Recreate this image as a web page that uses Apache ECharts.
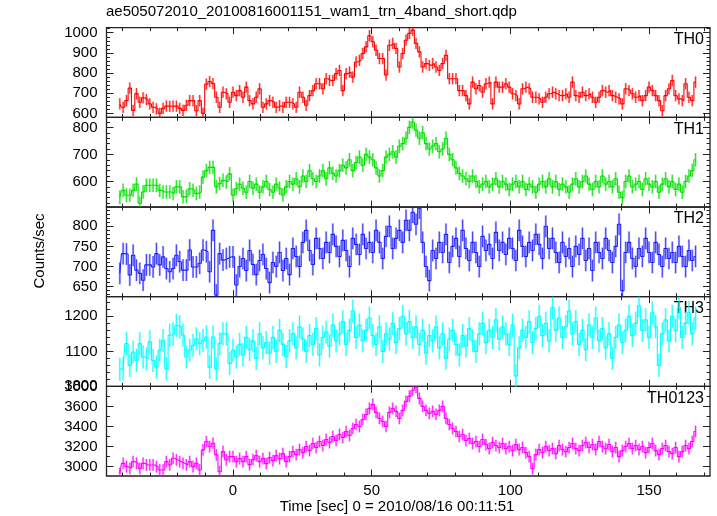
<!DOCTYPE html>
<html><head><meta charset="utf-8">
<script src="https://cdn.jsdelivr.net/npm/echarts@6/dist/echarts.min.js"></script>
<style>html,body{margin:0;padding:0;background:#fff}#c{width:717px;height:516px}</style>
</head><body><div id="c"></div>
<script>
// time bins
const binStart = -40.8, binWidth = 1.2;
// count rates (counts/sec)
const th0 = [647,630,663,725,615,698,655,677,668,647,
630,622,600,625,636,635,636,636,625,615,
640,663,663,613,663,600,745,758,748,680,
630,705,697,655,705,688,713,680,730,663,
647,680,722,630,647,663,655,630,638,630,
655,655,647,630,
705,680,640,688,713,747,747,722,772,763,
763,797,813,713,797,805,780,855,863,897,
930,985,955,913,872,872,790,938,947,922,
830,897,963,997,1013,947,905,830,847,838,
847,830,813,847,888,772,772,772,713,713,
688,647,755,722,738,705,747,755,647,755,
730,730,747,730,697,688,647,722,730,722,
680,680,672,655,680,697,705,697,688,688,
697,680,755,688,680,705,688,697,680,655,
680,713,705,713,688,680,672,647,722,713,
697,680,688,663,688,730,713,688,663,613,
688,722,763,688,672,663,747,680,663,755];
const th1 = [541,567,549,549,567,590,519,561,586,586,
586,586,567,561,561,561,555,580,580,543,
545,573,567,555,561,616,640,652,652,580,
592,604,598,628,549,573,
590,575,560,600,575,590,560,
580,600,570,560,590,575,550,580,
600,590,610,580,620,600,640,610,600,
620,640,610,650,630,620,640,660,
650,680,640,670,690,660,700,690,680,
650,620,640,690,700,710,690,
730,740,760,800,820,790,760,780,740,
720,730,740,710,720,760,700,680,650,
630,620,610,600,620,600,580,590,
600,580,590,610,580,600,590,570,
590,600,580,600,570,590,580,560,590,
600,580,610,580,600,570,590,580,
560,590,610,580,600,620,590,570,
600,580,620,590,600,580,610,560,540,
600,620,580,590,600,570,610,590,
580,600,560,590,610,580,600,570,
590,560,600,620,640,680];
const th2 = [683,732,731,679,728,691,683,666,704,704,
699,732,704,724,695,687,695,728,712,691,
691,741,699,699,708,741,737,687,790,629,
732,716,720,724,724,654,
700,720,690,740,705,680,715,730,695,660,
710,700,735,690,720,680,745,725,700,760,
790,740,705,770,745,720,760,735,780,750,
725,765,740,700,770,755,730,780,745,760,
735,790,760,720,775,800,745,770,790,760,
815,790,835,805,845,760,700,665,740,720,
760,735,780,710,750,770,725,790,745,715,
760,735,700,775,740,755,720,785,740,760,
730,770,745,715,790,750,725,760,740,780,
755,720,800,745,770,735,710,760,725,745,
700,750,730,770,715,745,690,760,735,720,
770,740,710,750,805,640,735,760,720,700,
745,725,770,735,710,760,730,700,745,720,
735,710,750,725,700,740,715,725];
const th3 = [1049,1050,1122,1060,1098,1074,1122,1084,1079,1127,
1074,1055,1103,1131,1050,1146,1150,1174,1170,1146,
1084,1103,1117,1136,1122,1131,1141,1055,1141,1050,
1122,1150,1150,1065,1103,1084,
1120,1090,1140,1105,1130,1080,1150,1110,1125,1095,
1140,1100,1160,1120,1085,1130,1150,1110,1170,1135,
1100,1145,1120,1165,1090,1140,1155,1115,1175,1130,
1150,1185,1120,1160,1215,1140,1175,1130,1160,1195,
1145,1120,1170,1100,1150,1135,1180,1125,1165,1200,
1150,1185,1140,1170,1120,1160,1095,1145,1130,1170,
1110,1150,1080,1135,1160,1120,1090,1145,1115,1165,
1130,1100,1150,1180,1125,1160,1140,1190,1135,1170,
1150,1120,1175,1030,1110,1160,1140,1185,1125,1165,
1200,1145,1180,1130,1225,1160,1195,1140,1170,1215,
1150,1185,1120,1160,1105,1175,1140,1195,1130,1165,
1110,1150,1080,1140,1175,1125,1160,1200,1145,1180,
1230,1160,1190,1140,1210,1170,1060,1150,1190,1130,
1200,1160,1225,1140,1180,1210,1150,1195];
const th0123 = [2933,3033,3000,2983,3050,3033,2983,3033,3017,3017,
3017,3000,2967,2967,3050,3017,3083,3067,3050,3033,
3017,3050,3000,3033,2967,3167,3250,3200,3233,3117,
2950,3150,3067,3100,3100,3050,
3080,3050,3100,3020,3070,3110,3050,3080,3030,3090,
3060,3110,3080,3130,3050,3100,3150,3120,3170,3140,
3200,3160,3230,3190,3250,3210,3270,3240,3300,3260,
3320,3290,3350,3310,3380,3420,3400,3470,3520,3580,
3620,3540,3480,3450,3400,3540,3580,3550,3480,3560,
3650,3700,3760,3790,3680,3600,3560,3530,3550,3520,
3560,3600,3480,3420,3380,3350,3300,3320,3260,3280,
3230,3250,3200,3270,3220,3180,3240,3210,3190,3230,
3180,3200,3160,3220,3170,3190,3140,3100,2980,3120,
3170,3140,3200,3160,3180,3130,3210,3170,3150,3190,
3230,3180,3160,3210,3240,3190,3220,3170,3250,3200,
3180,3220,3150,3190,3100,3160,3200,3230,3180,3210,
3170,3200,3140,3190,3230,3160,3120,3180,3210,3150,
3130,3190,3100,3150,3210,3180,3250,3350];
// typical 1-sigma errors per band
const errors = [28, 25, 27, 33, 58];
const bandNames = ['TH0','TH1','TH2','TH3','TH0123'];
const colors = ['#ff0000','#00e000','#2020ff','#00ffff','#ff00ff'];
// axis ranges and tick labels
const yMin = [580, 505, 625, 1000, 2907];
const yMax = [1025, 837, 848, 1256, 3800];
const yLabels = [[600,700,800,900,1000],[600,700,800],[650,700,750,800],[1000,1100,1200],[3000,3200,3400,3600,3800]];
const yMinorStep = [20, 20, 10, 20, 100];
const xMin = -45.6, xMax = 172;
const xLabels = [0, 50, 100, 150];
const xMinorStep = 10;

const series_ = [th0, th1, th2, th3, th0123];
const tops = [27.7, 117.4, 207.0, 296.7, 386.3];
const H = 89.7, L = 106.5, W = 603.5;

function range(a, b, s){ const r=[]; for(let v=Math.ceil(a/s)*s; v<=b+1e-9; v+=s) r.push(+v.toFixed(6)); return r; }
const xMinor = range(xMin, xMax, xMinorStep);

const grid=[], xAxis=[], yAxis=[], series=[], graphic=[];
const FONT = 'Liberation Sans, Arial, Helvetica, sans-serif';
const fmt = v => String(Math.round(v));
for(let k=0;k<5;k++){
  grid.push({left:L, top:tops[k], width:W, height:H, show:true, borderColor:'#222', borderWidth:1.3, backgroundColor:'transparent'});
  const yMinor = range(yMin[k], yMax[k], yMinorStep[k]);
  const mk = (pos, vals, len, lab) => ({type:'value', gridIndex:k, position:pos, min:xMin, max:xMax,
    axisLine:{show:false, onZero:false}, splitLine:{show:false},
    axisTick:{show:true, inside:true, length:len, customValues:vals, lineStyle:{color:'#222', width:1}},
    axisLabel:{show:lab, customValues:xLabels, formatter:fmt, color:'#000', fontSize:15, fontFamily:FONT, margin:7}});
  xAxis.push(mk('bottom', xLabels, 6.5, k===4));
  xAxis.push(mk('bottom', xMinor, 3.5, false));
  xAxis.push(mk('top', xLabels, 6.5, false));
  xAxis.push(mk('top', xMinor, 3.5, false));
  const mky = (pos, vals, len, lab) => ({type:'value', gridIndex:k, position:pos, min:yMin[k], max:yMax[k],
    axisLine:{show:false, onZero:false}, splitLine:{show:false},
    axisTick:{show:true, inside:true, length:len, customValues:vals, lineStyle:{color:'#222', width:1}},
    axisLabel:{show:lab, customValues:yLabels[k], formatter:fmt, color:'#000', fontSize:15, fontFamily:FONT, margin:9}});
  yAxis.push(mky('left', yLabels[k], 7, true));
  yAxis.push(mky('left', yMinor, 3.5, false));
  yAxis.push(mky('right', yLabels[k], 7, false));
  yAxis.push(mky('right', yMinor, 3.5, false));

  const d = series_[k].map((v,i)=>[binStart + i*binWidth, v, errors[k]]);
  const col = colors[k];
  series.push({type:'custom', xAxisIndex:4*k, yAxisIndex:4*k, clip:true, data:d, silent:true,
    renderItem:(params, api)=>{
      const t=api.value(0), v=api.value(1), e=api.value(2);
      const p1=api.coord([t, v+e]), p2=api.coord([t, v-e]);
      return {type:'group', children:[
        {type:'line', shape:{x1:p1[0],y1:p1[1],x2:p2[0],y2:p2[1]}, style:{stroke:col, lineWidth:2.2, opacity:0.35}},
        {type:'line', shape:{x1:p1[0],y1:p1[1],x2:p2[0],y2:p2[1]}, style:{stroke:col, lineWidth:1, opacity:0.8}}
      ]};
    }});
  series.push({type:'line', xAxisIndex:4*k, yAxisIndex:4*k, data:d.map(p=>[p[0],p[1]]), step:'middle',
    symbol:'none', silent:true, animation:false, lineStyle:{color:col, width:1.1}});
  graphic.push({type:'text', right:717-704, top:tops[k]+4, style:{text:bandNames[k], fontSize:16, fontFamily:FONT, fill:'#000'}});
}
graphic.push({type:'text', left:106, top:4, style:{text:'ae505072010_20100816001151_wam1_trn_4band_short.qdp', fontSize:15, fontFamily:FONT, fill:'#000'}});
graphic.push({type:'text', x:40, y:251, rotation:Math.PI/2, style:{text:'Counts/sec', fontSize:15, fontFamily:FONT, fill:'#000', align:'center', verticalAlign:'middle'}});
graphic.push({type:'text', x:397, y:507, style:{text:'Time [sec] 0 = 2010/08/16 00:11:51', fontSize:15, fontFamily:FONT, fill:'#000', align:'center', verticalAlign:'middle'}});

const chart = echarts.init(document.getElementById('c'));
chart.setOption({animation:false, backgroundColor:'#fff', grid, xAxis, yAxis, series, graphic});
</script></body></html>
